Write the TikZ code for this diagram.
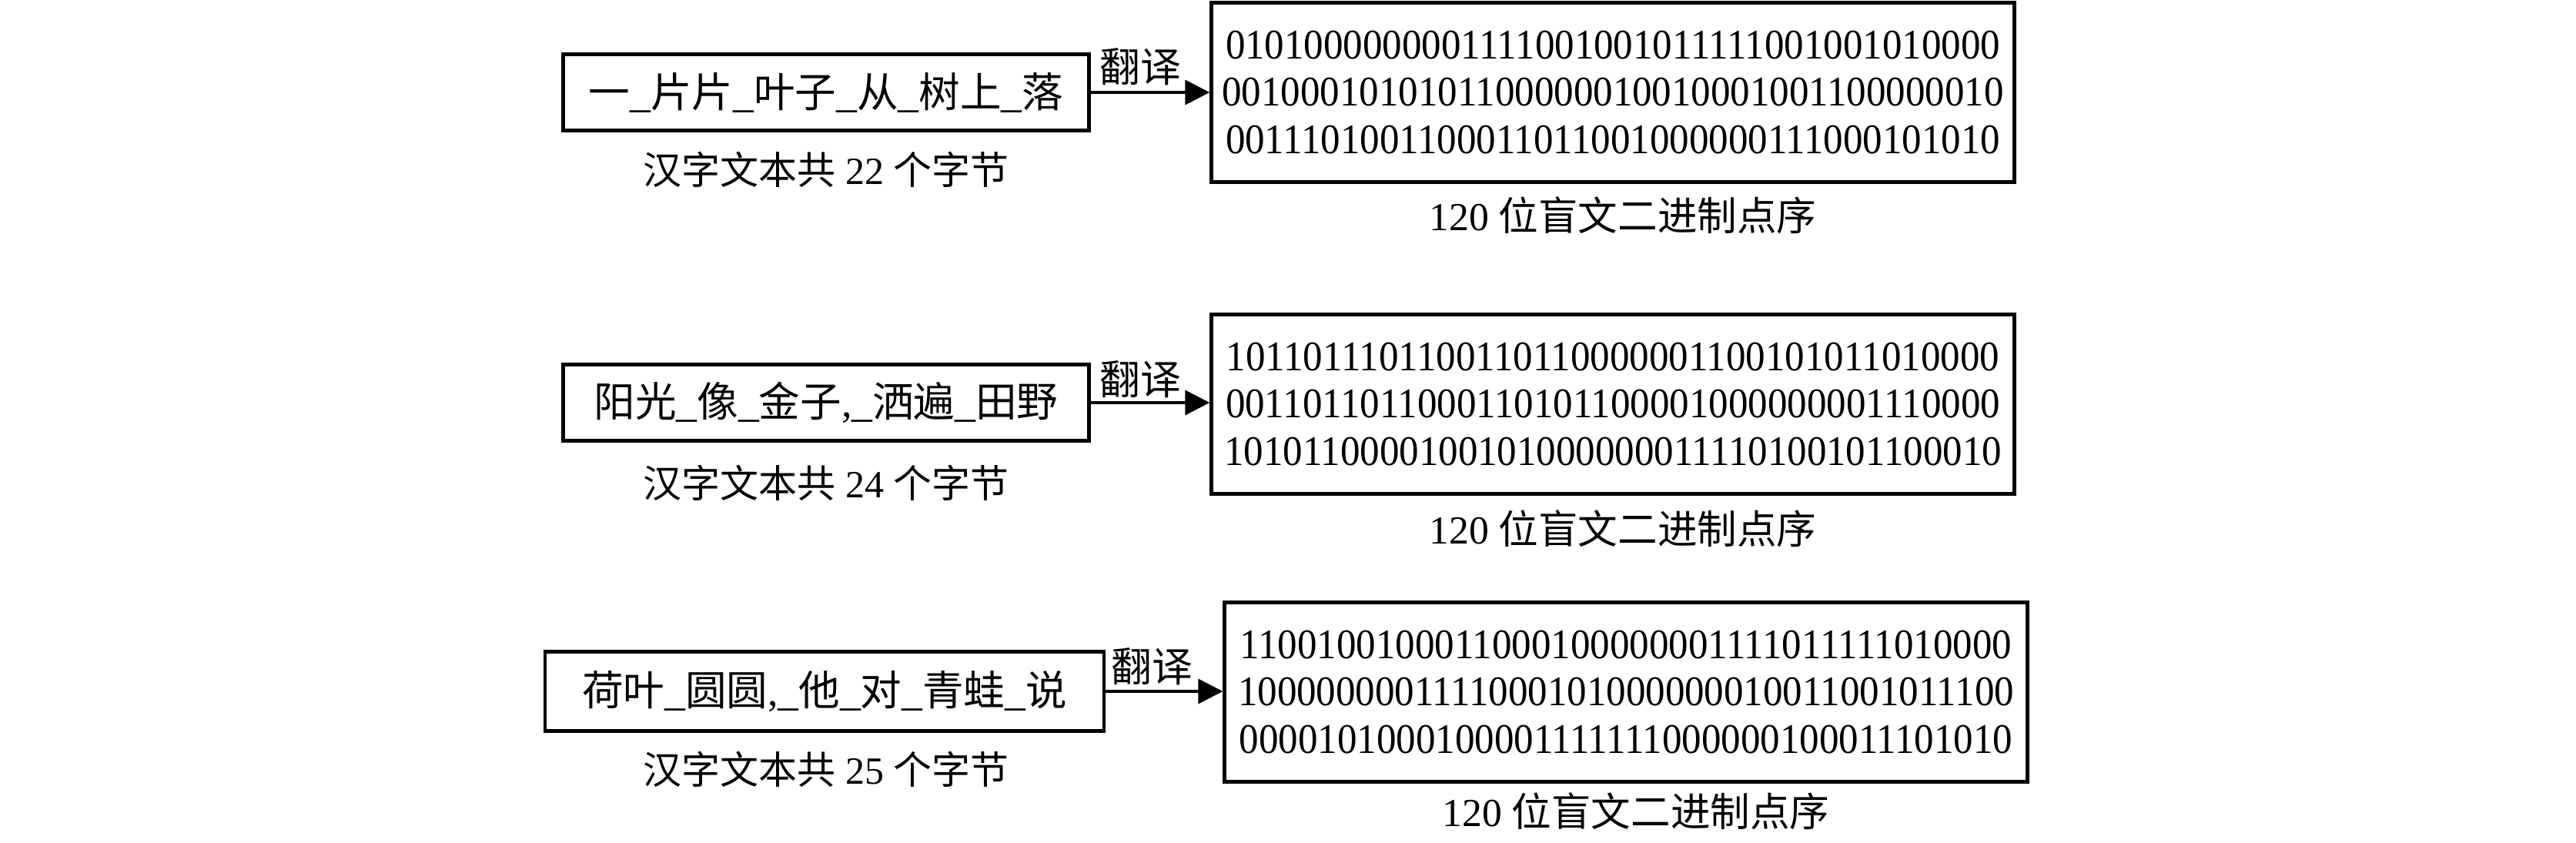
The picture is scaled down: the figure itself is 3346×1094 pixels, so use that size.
\documentclass[tikz,border=0pt]{standalone}
\usepackage{fontspec}
\setmainfont{Liberation Serif}
\newfontfamily\cjk{Noto Sans CJK SC}
\newfontfamily\binfont{Liberation Serif}[FakeStretch=0.93]
\usetikzlibrary{arrows.meta}
\newcommand{\zh}[1]{{\cjk #1}}
\begin{document}
\begin{tikzpicture}[x=0.25pt,y=-0.25pt,
  srcbox/.style={draw, line width=1.1pt, minimum width=170.75pt, minimum height=24.75pt, inner sep=0pt, font=\fontsize{13.4}{15}\selectfont},
  binbox/.style={draw, line width=1.1pt, minimum width=260.75pt, minimum height=58.25pt, inner sep=0pt, align=center, font=\binfont\fontsize{13.7}{15.4}\selectfont},
  capl/.style={inner sep=0pt, font=\fontsize{12.5}{14}\selectfont},
  capr/.style={inner sep=0pt, font=\fontsize{12.9}{14}\selectfont},
  trans/.style={inner sep=0pt, font=\fontsize{13.2}{14}\selectfont},
  conn/.style={line width=0.9pt, -{Triangle[length=8pt,width=8pt]}}]
\useasboundingbox (0,0) rectangle (3346,1094);

% row 1
\node[srcbox] (s1) at (1073,120) {\zh{一}\_\zh{片片}\_\zh{叶子}\_\zh{从}\_\zh{树上}\_\zh{落}};
\node[binbox] (b1) at (2095,120) {0101000000001111001001011111001001010000\\0010001010101100000010010001001100000010\\0011101001100011011001000000111000101010};
\node[capl] (c1) at (1073,220) {\zh{汉字文本共} 22 \zh{个字节}};
\node[capr] (d1) at (2108,280) {120 \zh{位盲文二进制点序}};
\draw[conn] (s1.east) -- (s1.east -| b1.west);
\node[trans] (t1) at (1481,87) {\zh{翻译}};

% row 2
\node[srcbox] (s2) at (1073,523) {\zh{阳光}\_\zh{像}\_\zh{金子},\_\zh{洒遍}\_\zh{田野}};
\node[binbox] (b2) at (2095,525) {1011011101100110110000001100101011010000\\0011011011000110101100001000000001110000\\1010110000100101000000011110100101100010};
\node[capl] (c2) at (1073,627) {\zh{汉字文本共} 24 \zh{个字节}};
\node[capr] (d2) at (2108,687) {120 \zh{位盲文二进制点序}};
\draw[conn] (s2.east) -- (s2.east -| b2.west);
\node[trans] (t2) at (1481,493) {\zh{翻译}};

% row 3
\node[srcbox, minimum width=181.5pt, minimum height=25.75pt] (s3) at (1071,898) {\zh{荷叶}\_\zh{圆圆},\_\zh{他}\_\zh{对}\_\zh{青蛙}\_\zh{说}};
\node[binbox] (b3) at (2112,899) {1100100100011000100000001111011111010000\\1000000001111000101000000010011001011100\\0000101000100001111111000000100011101010};
\node[capl] (c3) at (1073,999) {\zh{汉字文本共} 25 \zh{个字节}};
\node[capr] (d3) at (2125,1054) {120 \zh{位盲文二进制点序}};
\draw[conn] (s3.east) -- (s3.east -| b3.west);
\node[trans] (t3) at (1496,866) {\zh{翻译}};
\end{tikzpicture}
\end{document}
